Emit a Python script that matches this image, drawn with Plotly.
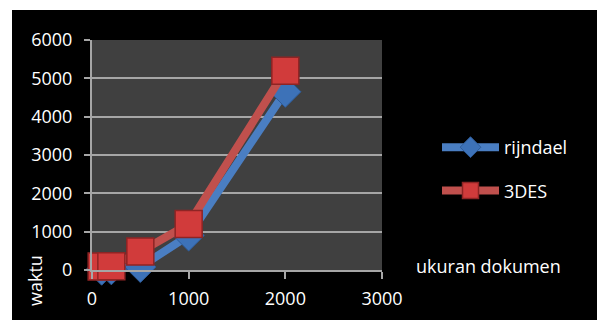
import plotly.graph_objects as go

doc_size = [100, 200, 500, 1000, 2000]
rijndael = [10, 20, 80, 900, 4650]
des3 = [90, 100, 480, 1200, 5200]
x_ticks = [0, 1000, 2000, 3000]
y_ticks = [0, 1000, 2000, 3000, 4000, 5000, 6000]

W, H = 597, 320
L, R, T, B = 92, 215, 40, 50
pw, ph = W - L - R, H - T - B

def px(xp):
    return (xp - L) / pw

def py(yp):
    return (H - B - yp) / ph

font = "Open Sans"
fig = go.Figure()
fig.add_trace(go.Scatter(
    x=doc_size, y=rijndael, name="rijndael", mode="lines+markers",
    legendgroup="a",
    line=dict(color="#4A7EC2", width=8),
    marker=dict(symbol="diamond", size=24, color="#3D72B8",
                line=dict(color="#2E5C99", width=1)),
    cliponaxis=False))
fig.add_trace(go.Scatter(
    x=doc_size, y=des3, name="3DES", mode="lines+markers",
    legendgroup="b",
    line=dict(color="#C0504D", width=8),
    marker=dict(symbol="square", size=27, color="#D13B3B",
                line=dict(color="#8E2424", width=1.5)),
    cliponaxis=False))

fig.update_layout(
    width=W, height=H,
    margin=dict(l=L, r=R, t=T, b=B, autoexpand=False),
    paper_bgcolor="black", plot_bgcolor="#404040",
    font=dict(family=font, size=18, color="white"),
    showlegend=True,
    legend=dict(x=px(437), y=py(129), xanchor="left", yanchor="top",
                bgcolor="rgba(0,0,0,0)", font=dict(size=18, color="white"),
                itemwidth=57, tracegroupgap=17),
    xaxis=dict(range=[0, 3000], tickvals=x_ticks, showgrid=False,
               showline=True, linecolor="#a6a6a6", linewidth=2,
               ticks="outside", ticklen=7, tickwidth=2, tickcolor="#a6a6a6",
               zeroline=False, ticklabelstandoff=4,
               tickfont=dict(size=18, color="white")),
    yaxis=dict(range=[0, 6000], tickvals=y_ticks, showgrid=True,
               gridcolor="#a6a6a6", gridwidth=2,
               showline=True, linecolor="#a6a6a6", linewidth=2,
               ticks="outside", ticklen=6, tickwidth=2, tickcolor="#a6a6a6",
               zeroline=False, ticklabelstandoff=8,
               tickfont=dict(size=18, color="white")),
    shapes=[
        dict(type="rect", xref="paper", yref="paper", x0=px(0), x1=px(W),
             y0=py(10), y1=py(-5), fillcolor="white", line_width=0, layer="above"),
        dict(type="rect", xref="paper", yref="paper", x0=px(-5), x1=px(12),
             y0=py(H + 5), y1=py(-5), fillcolor="white", line_width=0, layer="above"),
    ],
    annotations=[
        dict(text="ukuran dokumen", xref="paper", yref="paper", x=px(488), y=py(266),
             xanchor="center", yanchor="middle", showarrow=False,
             font=dict(size=18, color="white")),
        dict(text="waktu", xref="paper", yref="paper", x=px(35), y=py(281),
             xanchor="center", yanchor="middle", showarrow=False, textangle=-90,
             font=dict(size=18, color="white")),
    ],
)

fig.write_html("out.html")
